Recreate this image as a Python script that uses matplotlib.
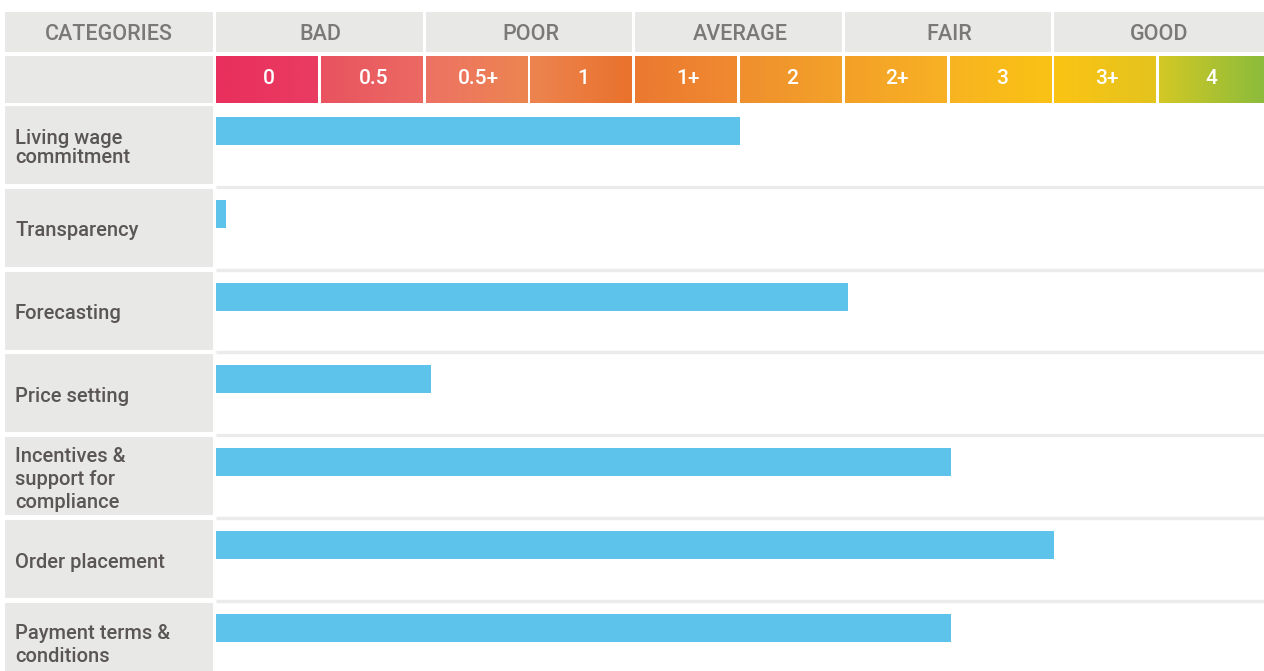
import matplotlib
matplotlib.use("Agg")
import matplotlib.pyplot as plt
import numpy as np
from matplotlib.patches import Rectangle
from matplotlib.colors import LinearSegmentedColormap

# ---------------- data ----------------
groups = ["BAD", "POOR", "AVERAGE", "FAIR", "GOOD"]
scores = ["0", "0.5", "0.5+", "1", "1+", "2", "2+", "3", "3+", "4"]
categories = ["Living wage\ncommitment", "Transparency", "Forecasting", "Price setting",
              "Incentives &\nsupport for\ncompliance", "Order placement",
              "Payment terms &\nconditions"]
values = [5.0, 0.1, 6.03, 2.05, 7.01, 8.0, 7.01]   # position on the 10-step score scale

# ---------------- styles ----------------
cell_colors = [("#e92f5d", "#e93c62"), ("#e8535f", "#ec6a63"), ("#ec7264", "#ed8550"),
               ("#ed8450", "#e9722c"), ("#eb7930", "#f08a30"), ("#ef8f2e", "#f3a22a"),
               ("#f3a028", "#f8b124"), ("#f8b421", "#fac215"), ("#fbc314", "#e4c41e"),
               ("#d3c825", "#8cbc3b")]
line_spacings = [1.03, 1.0, 1.0, 1.0, 1.26, 1.0, 1.24]
GREY = "#e8e8e6"
BAR = "#5ec3eb"
HEAD_TXT = "#7b7878"
LBL_TXT = "#5a5656"
FONT = "Roboto"

W, H = 1264, 671
fig = plt.figure(figsize=(W / 100, H / 100), dpi=100)
ax = fig.add_axes([0, 0, 1, 1])

colw = 104.8     # px per score step
rowh = 82.8      # px per data row
x0px, y0px = 216, 106
ax.set_xlim((0 - x0px) / colw, (W - x0px) / colw)
ax.set_ylim((H - y0px) / rowh, (0 - y0px) / rowh)
ax.axis("off")

def py(p):  # pixel y -> data y
    return (p - y0px) / rowh

def px(p):
    return (p - x0px) / colw

gap_x = 3 / colw
lx0, lx1 = px(5), px(213)

# header row
h0, h1 = py(12), py(52)
hy = (h0 + h1) / 2 + 2 / rowh
ax.add_patch(Rectangle((lx0, h0), lx1 - lx0, h1 - h0, color=GREY, lw=0))
ax.text((lx0 + lx1) / 2, hy, "CATEGORIES", ha="center", va="center",
        color=HEAD_TXT, fontsize=15.5, family=FONT, weight="medium")
for i, g in enumerate(groups):
    gx0 = 2 * i
    gx1 = 2 * i + 2 - (gap_x if i < len(groups) - 1 else 0)
    ax.add_patch(Rectangle((gx0, h0), gx1 - gx0, h1 - h0, color=GREY, lw=0))
    ax.text(2 * i + 1, hy, g, ha="center", va="center",
            color=HEAD_TXT, fontsize=15.5, family=FONT, weight="medium")

# score row
s0, s1 = py(56), py(103)
ax.add_patch(Rectangle((lx0, s0), lx1 - lx0, s1 - s0, color=GREY, lw=0))
for i, (lab, (c0, c1)) in enumerate(zip(scores, cell_colors)):
    cm = LinearSegmentedColormap.from_list("c%d" % i, [c0, c1])
    xb = i + 1 - (gap_x if i < len(scores) - 1 else 0)
    ax.imshow(np.linspace(0, 1, 64).reshape(1, -1), cmap=cm, aspect="auto",
              extent=(i, xb, s1, s0), interpolation="bilinear", zorder=1)
    ax.text(i + 0.5, (s0 + s1) / 2 - 1 / rowh, lab, ha="center", va="center", color="white",
            fontsize=15, family=FONT, weight="medium", zorder=3)

# data rows
n = len(categories)
for i, (cat, ls) in enumerate(zip(categories, line_spacings)):
    ax.add_patch(Rectangle((lx0, i), lx1 - lx0, 78 / rowh, color=GREY, lw=0))
    ax.text(px(15), i + 42 / rowh, cat, ha="left", va="center", color=LBL_TXT,
            fontsize=14.5, family=FONT, weight="medium", linespacing=ls)
    if i > 0:
        ax.plot([0, 10], [i - 2 / rowh, i - 2 / rowh], color="#ebebeb", lw=2.4,
                solid_capstyle="butt", zorder=0.5)

ax.barh(np.arange(n) + 11 / rowh, values, height=28 / rowh, left=0, align="edge",
        color=BAR, zorder=2)

fig.savefig("out.png", dpi=100)
